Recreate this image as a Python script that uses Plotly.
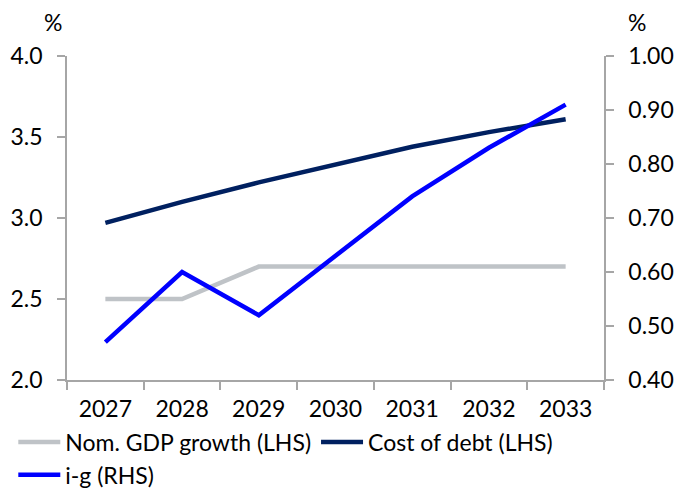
import plotly.graph_objects as go

years = ["2027", "2028", "2029", "2030", "2031", "2032", "2033"]
gdp_growth = [2.5, 2.5, 2.7, 2.7, 2.7, 2.7, 2.7]
cost_of_debt = [2.97, 3.10, 3.22, 3.33, 3.44, 3.53, 3.61]
i_minus_g = [0.47, 0.60, 0.52, 0.63, 0.74, 0.83, 0.91]

left_ticks = [2.0, 2.5, 3.0, 3.5, 4.0]
right_ticks = [0.40, 0.50, 0.60, 0.70, 0.80, 0.90, 1.00]

FONT = "Lato"
FS = 23
fig = go.Figure()
fig.add_trace(go.Scatter(x=years, y=gdp_growth, name="Nom. GDP growth (LHS)",
                         mode="lines", line=dict(color="#BFC3C7", width=4.5)))
fig.add_trace(go.Scatter(x=years, y=cost_of_debt, name="Cost of debt (LHS)",
                         mode="lines", line=dict(color="#002060", width=4.5)))
fig.add_trace(go.Scatter(x=years, y=i_minus_g, name="i-g (RHS)", yaxis="y2",
                         mode="lines", line=dict(color="#0000FF", width=4.5)))

axis_common = dict(showgrid=False, zeroline=False, showline=True, linecolor="#A6A6A6",
                   linewidth=1.5, ticks="outside", tickcolor="#A6A6A6", ticklen=8,
                   tickwidth=1.5, tickfont=dict(family=FONT, size=FS, color="#000"))

fig.update_layout(
    width=675, height=491,
    margin=dict(l=67, r=71, t=56, b=111, autoexpand=False),
    paper_bgcolor="white", plot_bgcolor="white",
    font=dict(family=FONT, size=FS, color="#000"),
    xaxis=dict(type="category", tickson="boundaries", range=[-0.5, 6.5],
               ticklabelstandoff=8, **axis_common),
    yaxis=dict(range=[2.0, 4.0], tickvals=left_ticks, ticktext=[f"{v:.1f}" for v in left_ticks],
               ticklabelstandoff=10, **axis_common),
    yaxis2=dict(range=[0.40, 1.00], tickvals=right_ticks, ticktext=[f"{v:.2f}" for v in right_ticks],
                overlaying="y", side="right", ticklabelstandoff=10, **axis_common),
    legend=dict(orientation="h", x=-0.1, xanchor="left", y=-0.125, yanchor="top",
                font=dict(family=FONT, size=FS), itemwidth=42, tracegroupgap=0,
                bgcolor="rgba(0,0,0,0)"),
    showlegend=True,
)
fig.add_annotation(text="%", xref="paper", yref="paper", x=-0.026, y=1.055, xanchor="center",
                   yanchor="bottom", showarrow=False, font=dict(family=FONT, size=FS))
fig.add_annotation(text="%", xref="paper", yref="paper", x=1.062, y=1.055, xanchor="center",
                   yanchor="bottom", showarrow=False, font=dict(family=FONT, size=FS))

fig.write_html("out.html")
